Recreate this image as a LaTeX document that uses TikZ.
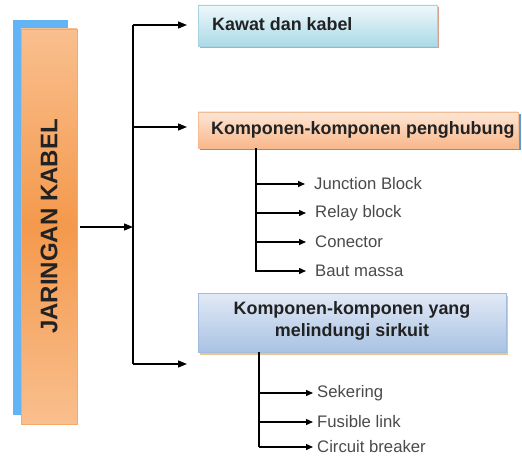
\documentclass[tikz,border=0pt]{standalone}
\usepackage{fontspec}
\setmainfont{Liberation Sans}
\usetikzlibrary{arrows.meta}
\definecolor{backblue}{HTML}{63B4F5}
\definecolor{peach}{HTML}{F9BF8E}
\definecolor{orangemid}{HTML}{F4994C}
\definecolor{orangeline}{HTML}{F4A968}
\definecolor{cyantop}{HTML}{EEF8FB}
\definecolor{cyanbot}{HTML}{ACDAE7}
\definecolor{cyanline}{HTML}{A6D3E2}
\definecolor{salmon}{HTML}{D9A08E}
\definecolor{ptop}{HTML}{FDE6D6}
\definecolor{pbot}{HTML}{F9B789}
\definecolor{pline}{HTML}{F6BC94}
\definecolor{shblue}{HTML}{5B9BD5}
\definecolor{btop}{HTML}{E2EAF6}
\definecolor{bbot}{HTML}{A9C2E3}
\definecolor{bline}{HTML}{A4BCDC}
\definecolor{tan}{HTML}{E8C596}
\definecolor{subgray}{HTML}{4A4A4A}
\definecolor{boxtext}{HTML}{222222}
\tikzset{
  conn/.style={line width=1.3pt, black},
  arr/.style={conn, -{Triangle[length=7pt,width=6pt]}},
  bigarr/.style={conn, -{Triangle[length=9pt,width=7pt]}},
  boxlabel/.style={font=\bfseries\fontsize{17.9}{22}\selectfont, text=boxtext, inner sep=0pt},
  sublabel/.style={font=\fontsize{16.7}{20}\selectfont, text=subgray, anchor=west, inner sep=0pt},
  plainbox/.style={draw, line width=0.6pt, inner sep=0pt},
}
\begin{document}
\begin{tikzpicture}[x=1pt,y=-1pt]
\useasboundingbox (0,0) rectangle (522,457);
% left block
\fill[backblue] (13,20) rectangle (68,415);
\node[plainbox, draw=orangeline, minimum width=56pt, minimum height=395pt,
      top color=peach, bottom color=peach, middle color=orangemid] (main) at (49,226.5) {};
\node[rotate=90, font=\bfseries\fontsize{24}{28}\selectfont, text=boxtext] (mainlabel) at (main.center) {JARINGAN KABEL};
% boxes
\fill[salmon] (199.5,7.5) rectangle (438.5,48.5);
\node[plainbox, draw=cyanline, minimum width=239pt, minimum height=41pt,
      top color=cyantop, bottom color=cyanbot] (box1) at (317.5,25.5) {};
\node[boxlabel, anchor=west] (box1label) at (212,24) {Kawat dan kabel};
\fill[shblue] (199.5,114.5) rectangle (520.5,150);
\node[plainbox, draw=pline, minimum width=320pt, minimum height=36pt,
      top color=ptop, bottom color=pbot] (box2) at (358,130) {};
\node[boxlabel, anchor=west] (box2label) at (211,130) {Komponen-komponen penghubung};
\fill[tan] (199.5,295.5) rectangle (507.5,354.5);
\node[plainbox, draw=bline, minimum width=308pt, minimum height=59pt,
      top color=btop, bottom color=bbot] (box3) at (352,322.5) {};
\node[boxlabel, align=center] (box3label) at (352,321) {Komponen-komponen yang\\melindungi sirkuit};
% main connectors
\coordinate (trunktop) at (133,25);
\coordinate (trunkmid) at (133,227);
\coordinate (trunkbot) at (133,364);
\coordinate (b1) at (187,25);
\coordinate (b2) at (187,127);
\coordinate (b3) at (187,364);
\draw[bigarr] ([xshift=3pt]main.east |- trunkmid) -- (trunkmid);
\draw[conn] (trunktop) -- (trunkbot);
\draw[bigarr] (trunktop) -- (b1);
\draw[bigarr] (trunktop |- b2) -- (b2);
\draw[bigarr] (trunkbot) -- (b3);
% sub items box 2
\node[sublabel] (s1) at (314,184) {Junction Block};
\node[sublabel] (s2) at (315,213) {Relay block};
\node[sublabel] (s3) at (315,242) {Conector};
\node[sublabel] (s4) at (315,271) {Baut massa};
\coordinate (t2) at (256,272);
\draw[conn] (box2.south -| t2) -- (t2);
\foreach \n in {s1,s2,s3,s4}{
  \draw[arr] (t2 |- \n.west) -- ([xshift=-9pt]\n.west);
}
% sub items box 3
\node[sublabel] (u1) at (317,393) {Sekering};
\node[sublabel] (u2) at (317,422) {Fusible link};
\node[sublabel] (u3) at (317,447) {Circuit breaker};
\coordinate (t3) at (259,447);
\draw[conn] (box3.south -| t3) -- (t3);
\foreach \n in {u1,u2,u3}{
  \draw[arr] (t3 |- \n.west) -- ([xshift=-4pt]\n.west);
}
\end{tikzpicture}
\end{document}
